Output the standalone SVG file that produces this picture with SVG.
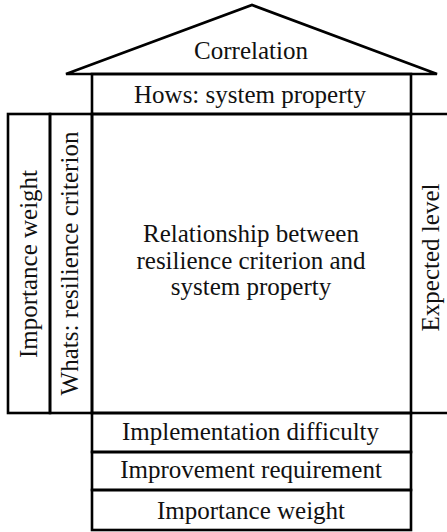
<svg xmlns="http://www.w3.org/2000/svg" width="447" height="532" viewBox="0 0 447 532">
  <style>
    .box { fill: none; stroke: #000; stroke-width: 2.6; stroke-linejoin: miter; }
    .lbl { font-size: 25px; fill: #111; text-anchor: middle; }
  </style>
  <rect width="447" height="532" fill="#fff"/>

  <g font-family="'Liberation Serif', 'Times New Roman', Times, serif">
  <!-- roof: correlation matrix -->
  <g id="correlation">
    <polygon class="box" points="66,74 252,5 437,74"/>
    <text class="lbl" x="251" y="59">Correlation</text>
  </g>

  <!-- column headers -->
  <g id="hows">
    <rect class="box" x="92" y="74" width="319" height="40"/>
    <text class="lbl" x="250" y="103">Hows: system property</text>
  </g>

  <!-- left side: weights and requirements -->
  <g id="importance-weight-left">
    <rect class="box" x="8" y="114" width="42" height="299"/>
    <text class="lbl" transform="translate(37,264) rotate(-90)">Importance weight</text>
  </g>
  <g id="whats">
    <rect class="box" x="50" y="114" width="42" height="299"/>
    <text class="lbl" transform="translate(78,263.5) rotate(-90)">Whats: resilience criterion</text>
  </g>

  <!-- central relationship matrix -->
  <g id="relationship">
    <rect class="box" x="92" y="114" width="319" height="299"/>
    <text class="lbl" x="251" y="242">Relationship between</text>
    <text class="lbl" x="251" y="268.5">resilience criterion and</text>
    <text class="lbl" x="251" y="295">system property</text>
  </g>

  <!-- right side: target level -->
  <g id="expected-level">
    <path class="box" d="M411,114 H447 M411,413 H447"/>
    <text class="lbl" transform="translate(438.5,257.5) rotate(-90)">Expected level</text>
  </g>

  <!-- bottom rows -->
  <g id="implementation-difficulty">
    <rect class="box" x="92" y="413" width="319" height="39"/>
    <text class="lbl" x="250.5" y="440">Implementation difficulty</text>
  </g>
  <g id="improvement-requirement">
    <rect class="box" x="92" y="452" width="319" height="38"/>
    <text class="lbl" x="251" y="477.5">Improvement requirement</text>
  </g>
  <g id="importance-weight-bottom">
    <rect class="box" x="92" y="490" width="319" height="40"/>
    <text class="lbl" x="251" y="518.5">Importance weight</text>
  </g>
  </g>

  <g id="connectors"/>
</svg>
